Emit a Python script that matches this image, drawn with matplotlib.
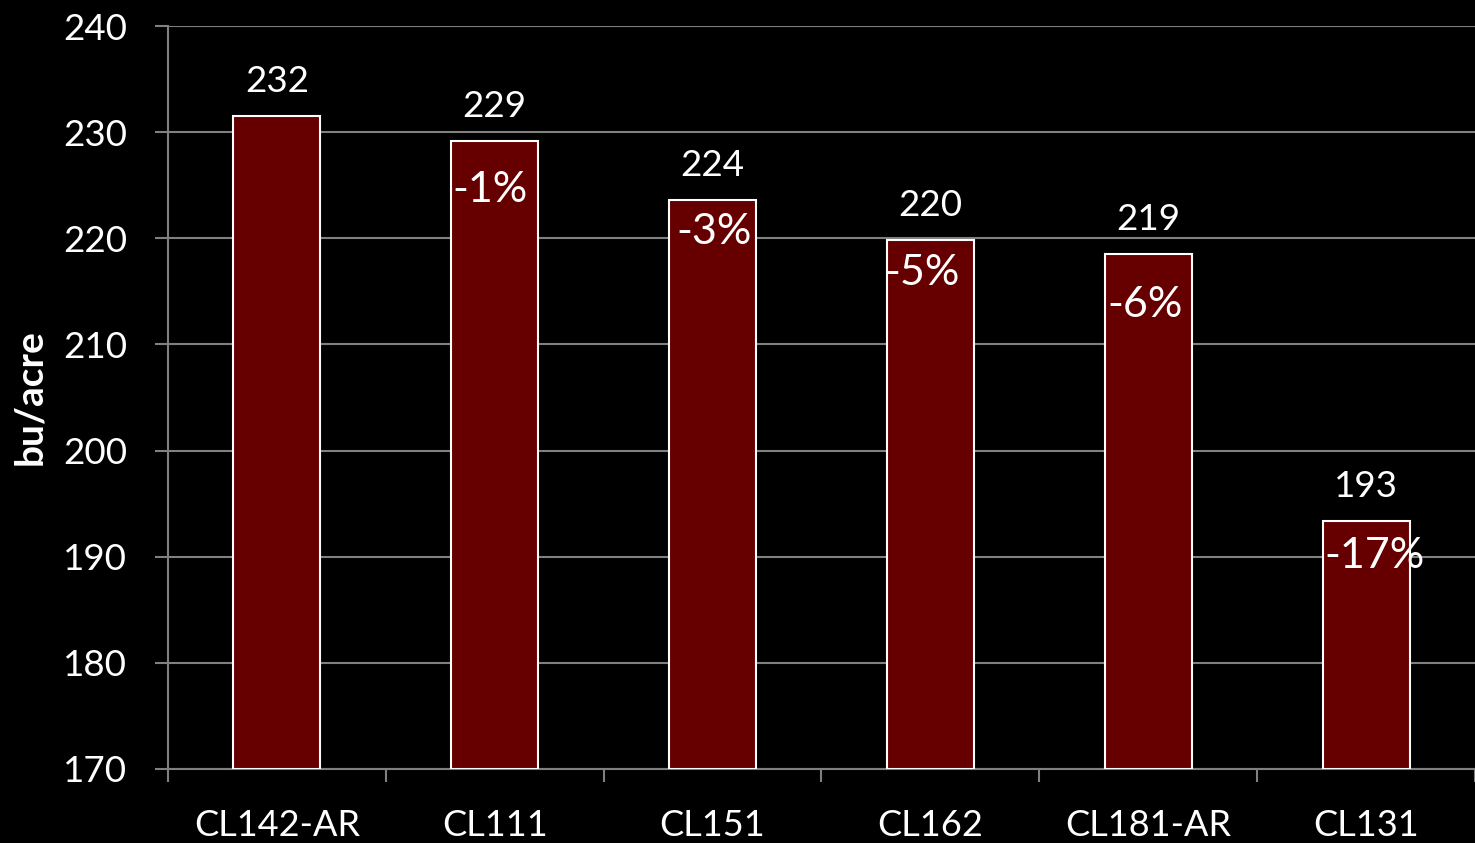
import matplotlib
matplotlib.use("Agg")
import matplotlib.pyplot as plt
import numpy as np

varieties = ["CL142-AR", "CL111", "CL151", "CL162", "CL181-AR", "CL131"]
yields = [231.5, 229.2, 223.6, 219.8, 218.5, 193.4]
value_labels = ["232", "229", "224", "220", "219", "193"]
pct_labels = ["", "-1%", "-3%", "-5%", "-6%", "-17%"]

# pixel offsets from bar top centre for the percent labels (placed by hand in the original)
pct_dx = [0, -5, 1, -8, -3, 8]
pct_dy = [0, -49, -32, -33, -51, -35]

plt.rcParams["font.family"] = ["Lato", "DejaVu Sans"]

fig = plt.figure(figsize=(14.75, 8.43), dpi=100, facecolor="black")
ax = fig.add_axes([168 / 1475, 1 - 769 / 843, 1 - 168 / 1475, (769 - 26) / 843])
ax.set_facecolor("black")

x = np.arange(len(varieties))
ax.bar(x, [v - 170 for v in yields], bottom=170, width=0.4,
       color="#660000", edgecolor="white", linewidth=1.5, zorder=3)

for xi, v, lab, pct, dx, dy in zip(x, yields, value_labels, pct_labels, pct_dx, pct_dy):
    ax.annotate(lab, (xi, v), textcoords="offset pixels", xytext=(0, 18),
                ha="center", va="bottom", color="white", fontsize=26.5)
    if pct:
        ax.annotate(pct, (xi, v), textcoords="offset pixels", xytext=(dx, dy),
                    ha="center", va="center", color="white", fontsize=31, zorder=4)

ax.set_xlim(-0.5, len(varieties) - 0.5)
ax.set_ylim(170, 240)
ax.set_yticks(np.arange(170, 241, 10))
ax.yaxis.grid(True, color="#808080", linewidth=1.5, zorder=0)
ax.set_axisbelow(True)

# boundary ticks (major) and centred labels (minor)
ax.set_xticks(np.arange(-0.5, len(varieties) + 0.5, 1))
ax.set_xticklabels([])
ax.set_xticks(x, minor=True)
ax.set_xticklabels(varieties, minor=True)
ax.tick_params(axis="x", which="major", direction="out", length=9, width=1.5, color="#808080")
ax.tick_params(axis="x", which="minor", length=0, pad=29, labelsize=26, labelcolor="white")
ax.tick_params(axis="y", direction="out", length=9.5, width=1.5, color="#808080",
               pad=20, labelsize=26.5, labelcolor="white")

for side in ["top", "right"]:
    ax.spines[side].set_visible(False)
for side in ["left", "bottom"]:
    ax.spines[side].set_color("#808080")
    ax.spines[side].set_linewidth(1.5)

ax.set_ylabel("bu/acre", color="white", fontsize=28, fontweight="bold")
ax.yaxis.set_label_coords(-121 / 1307, 0.5)

fig.savefig("out.png", dpi=100, facecolor="black")
